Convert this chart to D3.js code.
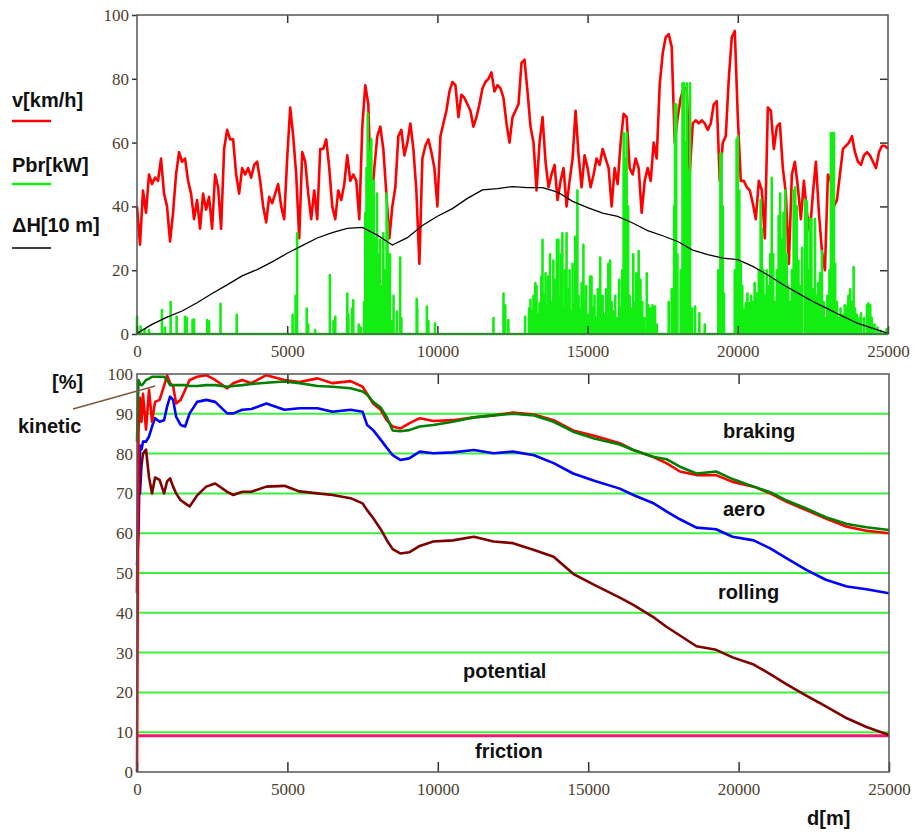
<!DOCTYPE html>
<html>
<head>
<meta charset="utf-8">
<script src="https://cdn.jsdelivr.net/npm/d3@7"></script>
<style>
  body { margin: 0; background: #fff; }
  .label { font-family: "Liberation Sans", Arial, sans-serif; font-weight: bold; font-size: 20px; fill: #111; }
</style>
</head>
<body>
<div id="chart"></div>
<script>
// SVG area
var svgWidth = 919;
var svgHeight = 832;

// ---- upper panel data ----
// speed v[km/h], one value every 100 m from 0 to 25000
var speedKmh = [
  40,28,45,38,50,47,49,48,55,44,
  40,29,38,50,57,54,55,48,44,36,
  42,33,44,39,43,33,50,46,33,58,
  64,61,61,50,44,52,50,52,49,53,
  54,48,40,35,43,41,44,47,40,36,
  55,71,62,50,30,57,54,44,36,45,
  36,58,58,61,52,40,36,45,42,47,
  56,48,50,48,36,65,78,72,40,52,
  62,65,58,44,30,40,46,62,64,56,
  60,66,58,45,22,55,59,61,57,52,
  40,62,66,70,76,79,78,68,75,74,
  72,70,65,68,72,77,79,80,82,76,
  78,77,74,66,60,68,70,72,85,86,
  76,65,60,45,60,68,54,46,50,53,
  42,48,52,40,48,55,70,56,46,56,
  52,46,50,55,53,58,55,52,40,52,
  47,60,69,68,52,50,55,52,38,48,
  52,48,60,55,78,88,93,94,90,60,
  68,74,77,77,50,66,67,66,67,66,
  64,66,72,73,48,60,62,80,93,95,
  68,48,48,46,45,41,36,48,45,30,
  71,70,58,65,66,52,44,22,50,54,
  46,36,48,38,32,44,54,38,26,20,
  50,48,40,42,50,58,59,60,62,57,
  54,53,56,57,56,54,52,57,59,59,
  58
];
var speedDist = d3.range(0, 25001, 100);

// height difference dH[10 m], every 500 m
var heightDH = [
  0.2,3,5.3,7.2,9.8,12.7,15.4,18.2,20.2,22.6,
  25.3,27.7,30.1,31.8,33.1,33.4,31,27.9,30.2,34,
  36.9,39.3,42.5,45.2,45.6,46.2,45.9,45.9,44.5,41.6,
  39.6,37.9,36.9,34.8,32.4,30.8,29,26.3,24.9,23.8,
  23.3,21.2,18.5,15.5,12.8,10.2,7.9,5.5,3.3,1.8,
  0.2
];
var heightDist = d3.range(0, 25001, 500);

// braking power Pbr[kW] peaks: position [m] and value
var pbrDist = [
  0,120,250,400,830,930,1120,1320,1600,1660,1850,1900,2340,2400,2780,3320,
  5180,5280,5330,5650,5700,5930,6420,6540,6600,7000,7040,7160,7200,7380,7450,
  7560,7600,7640,7680,7700,7720,7740,7760,7780,7800,7830,7860,7880,7920,7960,7990,
  8030,8090,8130,8200,8230,8260,8310,8340,8380,8420,8460,8540,8650,8760,8800,
  9310,9330,9650,9700,9920,11866,12200,12260,12360,12920,
  13050,13100,13150,13200,13260,13300,13350,13400,13460,13500,13550,13600,13650,13690,
  13750,13800,13860,13900,13950,13980,14030,14080,14120,14160,14200,14250,14300,14350,
  14400,14450,14500,14540,14590,14660,14700,14760,14800,14860,14900,14950,15000,15080,
  15130,15180,15230,15280,15340,15420,15460,15500,15560,15620,15690,15750,15800,15860,
  15920,15980,16050,16100,16150,16200,16250,16300,16350,16400,16450,16520,16560,16620,
  16700,16760,16820,16880,16970,17020,17100,17160,17245,17300,
  17700,17800,17880,17910,17950,17990,18100,18160,18200,18250,18300,18350,18410,18480,
  18580,18720,18900,
  19350,19420,19460,19500,19540,19900,19960,20000,20050,20100,20150,
  20200,20260,20320,20380,20440,20500,20560,20630,20700,20760,20800,20850,20900,20960,
  21020,21080,21130,21180,21240,21300,21360,21410,21460,21520,21580,21630,21680,21740,
  21800,21860,21910,21960,22020,22080,22140,22240,22300,22350,22400,22450,22500,22570,
  22620,22680,22740,22800,22860,22920,22980,23050,23100,23150,23200,23240,23300,23360,
  23420,23500,23560,23620,23680,23740,23800,23855,23900,23960,24050,24100,24200,24300,
  24350,24410,24460,24550,24650,24750,24950
];
var pbrKw = [
  5.5,2.3,1.5,1.2,7.5,2,10,5.4,5.4,5,4.4,4.5,4.4,4,9.5,6,
  6,12,31.6,8,3,1.2,18.5,4,5.4,12.7,6,8,10.6,3,2,
  10,38,52,69,60,50,40,57,35,61,44,37,48,20,30,44,
  25,29.5,15,31.6,20,10,44,35,20,25,4,12,7,24,5,
  11,8,8.6,4,3.3,5,12.7,9,4.4,5.4,
  8,10.7,7,12,16,15,6,9.6,18,29.5,12,19,8,18,
  25,10,23,17,6,29.5,29.5,12,25,31.6,8,20,31.6,14,
  20,7,22,10,30.5,45,12,8,16,28,10,15,6,18,
  18,8,12,5,14,24,9,12,6,14,22,23,10,7,
  12,5,17,8,20,63,55,63,40,12,8,25,10,19,
  26,17,10,5,19,9,8,9,8.6,3,
  10,14,40,72,72,25,20,78.6,78.6,60,78.6,51,78.6,8,
  8.6,6.5,3,
  20,56.6,56.6,40,12.7,20,61,62,45,22,15,
  7.5,9.6,12.7,9.6,12,10,16,12.7,20,42,33,20,12,20,
  15,25,49,25,10,20,37,44,29.5,38,45,25,15,10,
  20,45,46,40,23,15,27,42,41.5,20,36,36,14,36,
  12,16,19,26,10,5,12,20,63,63,63,22,10,5,
  8,6,9,8.6,12,14,10,21,8,6,5,6.5,5,9,
  9.6,9,5,3,2,1,1.5
];

// ---- lower panel data ----
// cumulative energy shares [%] vs distance
var pctDist = [
  0,50,100,150,200,300,400,500,600,750,
  900,1000,1100,1200,1300,1450,1600,1750,2000,2300,
  2600,3000,3200,3500,3800,4300,4900,5400,6000,6500,
  7100,7500,7650,7850,8100,8300,8500,8750,9050,9400,
  9850,10500,11200,11850,12500,13200,13850,14500,15200,16050,
  16500,17150,17600,18050,18600,19250,19800,20500,21050,21600,
  22250,22900,23600,24250,25000
];
var kineticPct = [
  0,85,94,88,95,86,96,88,93,93.5,
  97,99.7,97.7,97,92.6,93.5,96,98.5,99.3,99.7,
  98.5,96.4,97.7,98.5,97.7,99.7,98.5,98,98.9,97.7,
  98.2,96.8,95,92.6,91,88.4,86.8,86.3,87.6,88.9,
  88.2,88.4,89.1,89.6,90.3,89.8,88.4,85.8,84.5,82.6,
  80.9,79.2,77.6,75.5,74.6,74.6,72.9,71.7,70,67.9,
  65.8,63.7,61.6,60.6,60
];
var brakingPct = [
  83,98.5,97.5,97.2,97.5,98.5,98.8,99.3,99.3,99.3,
  99.3,98.5,97.2,97.2,97.2,97.2,97.2,97,97,97.2,
  97.2,96.8,97,97.2,97.5,97.8,98.1,97.7,97,96.8,
  96.4,95.6,94.8,93,91.6,89.2,85.8,85.6,85.9,86.8,
  87.2,88,89.1,89.6,90,89.6,88,85.5,83.8,82.3,
  80.9,79.2,78.6,76.7,75,75.5,73.6,71.7,70.3,68.2,
  66.2,64,62.3,61.5,60.8
];
var aeroPct = [
  52,60,82,81,83,83,84.3,86.8,88.9,88,
  88.4,91.8,94.3,93.5,89.3,87.2,86.8,90.1,93,93.5,
  93,90.1,90.1,91,91.2,92.6,91,91.4,91.4,90.5,
  91,90.5,87.2,85.9,83.5,81.5,79.6,78.4,78.8,80.5,
  80.1,80.3,80.9,80.1,80.5,79.6,77.6,75,73.2,71.2,
  69.6,67.6,65.5,63.5,61.4,61,59.1,58.2,56.2,53.7,
  50.8,48.3,46.6,45.9,44.9
];
var rollingPct = [
  45,80,70,77,80,81,74,70,74,73.4,
  70,73,73.8,71.7,70,68.3,67.5,66.7,69.5,71.7,
  72.5,70.4,69.6,70.4,70.4,71.7,71.9,70.5,70,69.6,
  68.8,67.5,65.8,63.8,61,58.3,56,54.9,55.2,56.8,
  57.9,58.2,59.1,57.9,57.5,55.8,54.1,49.8,47,43.8,
  42,39,36.5,34.3,31.6,30.7,28.8,27,24.6,22,
  19.2,16.5,13.5,11.3,9.3
];
var frictionDist = [0, 25000];
var frictionPct = [9.1, 9.1];

// tick values
var distTicks = [0, 5000, 10000, 15000, 20000, 25000];
var innerDistTicks = [5000, 10000, 15000, 20000];
var upperYTicks = [0, 20, 40, 60, 80, 100];
var lowerYTicks = d3.range(0, 101, 10);
var gridPct = d3.range(10, 91, 10);

// panel boxes
var upper = { left: 137, right: 888, top: 15, bottom: 334 };
var lower = { left: 137, right: 889, top: 374, bottom: 772 };

var svg = d3.select("#chart")
  .append("svg")
  .attr("width", svgWidth)
  .attr("height", svgHeight)
  .style("background", "#fff");

// scales
var xUp = d3.scaleLinear().domain([0, 25000]).range([upper.left, upper.right]);
var yUp = d3.scaleLinear().domain([0, 100]).range([upper.bottom, upper.top]);
var xLo = d3.scaleLinear().domain([0, 25000]).range([lower.left, lower.right]);
var yLo = d3.scaleLinear().domain([0, 100]).range([lower.bottom, lower.top]);

// axis look: no domain line, serif numbers, dark ticks
function styleAxis(g) {
  g.select(".domain").remove();
  g.selectAll(".tick line").attr("stroke", "#333").attr("stroke-width", 1.5);
  g.selectAll(".tick text")
    .style("font-family", "'Liberation Serif', 'Times New Roman', serif")
    .style("font-size", "17px")
    .style("fill", "#4d4030");
}

/**
 * Upper panel
 */
var drawSpeed = d3.line()
  .x((d, i) => xUp(speedDist[i]))
  .y(d => yUp(d));

svg.append("path")
  .attr("d", drawSpeed(speedKmh))
  .attr("fill", "none")
  .attr("stroke", "#ff0000")
  .attr("stroke-width", 2.6)
  .attr("stroke-linejoin", "round");

// braking power drawn as stems rising from the zero line
var pbrPoints = [[0, 0]];
pbrDist.forEach(function(d, i) {
  pbrPoints.push([d, 0], [d, pbrKw[i]], [d, 0]);
});
pbrPoints.push([25000, 0]);

var drawPbr = d3.line()
  .x(p => xUp(p[0]))
  .y(p => yUp(p[1]));

svg.append("path")
  .attr("d", drawPbr(pbrPoints))
  .attr("fill", "none")
  .attr("stroke", "#12ee12")
  .attr("stroke-width", 2.6)
  .attr("stroke-linejoin", "round");

var drawHeight = d3.line()
  .x((d, i) => xUp(heightDist[i]))
  .y(d => yUp(d));

svg.append("path")
  .attr("d", drawHeight(heightDH))
  .attr("fill", "none")
  .attr("stroke", "#000")
  .attr("stroke-width", 1.3);

// axes
svg.append("g")
  .attr("transform", "translate(0," + upper.bottom + ")")
  .call(d3.axisBottom(xUp).tickValues(distTicks).tickSizeInner(-8).tickSizeOuter(0).tickPadding(11).tickFormat(d3.format("d")))
  .call(styleAxis);
svg.append("g")
  .attr("transform", "translate(0," + upper.top + ")")
  .call(d3.axisTop(xUp).tickValues(innerDistTicks).tickSizeInner(-8).tickSizeOuter(0).tickFormat(""))
  .call(styleAxis);
svg.append("g")
  .attr("transform", "translate(" + upper.left + ",0)")
  .call(d3.axisLeft(yUp).tickValues(upperYTicks).tickSizeInner(5).tickSizeOuter(0).tickPadding(3))
  .call(styleAxis);
svg.append("g")
  .attr("transform", "translate(" + upper.right + ",0)")
  .call(d3.axisRight(yUp).tickValues([20, 40, 60, 80]).tickSizeInner(-8).tickSizeOuter(0).tickFormat(""))
  .call(styleAxis);

svg.append("rect")
  .attr("x", upper.left).attr("y", upper.top)
  .attr("width", upper.right - upper.left)
  .attr("height", upper.bottom - upper.top)
  .attr("fill", "none")
  .attr("stroke", "#555")
  .attr("stroke-width", 1.5);

// legend of the upper panel
var legend = [
  { text: "v[km/h]", color: "#ff0000", y: 107, lineY: 121, width: 2.5 },
  { text: "Pbr[kW]", color: "#12ee12", y: 172, lineY: 184, width: 2.5 },
  { text: "\u0394H[10 m]", color: "#000", y: 232, lineY: 248, width: 1.5 }
];
legend.forEach(function(l) {
  svg.append("text").attr("class", "label").attr("x", 12).attr("y", l.y).text(l.text);
  svg.append("line")
    .attr("x1", 12).attr("x2", 51)
    .attr("y1", l.lineY).attr("y2", l.lineY)
    .attr("stroke", l.color).attr("stroke-width", l.width);
});

/**
 * Lower panel
 */
svg.append("g")
  .selectAll("line")
  .data(gridPct)
  .join("line")
  .attr("x1", xLo(0)).attr("x2", xLo(25000))
  .attr("y1", d => yLo(d)).attr("y2", d => yLo(d))
  .attr("stroke", "#3ef03e")
  .attr("stroke-width", 2);

var drawPct = d3.line()
  .x((d, i) => xLo(pctDist[i]))
  .y(d => yLo(d));

svg.append("path")
  .attr("d", d3.line().x((d, i) => xLo(frictionDist[i])).y(d => yLo(d))(frictionPct))
  .attr("fill", "none")
  .attr("stroke", "#f0186e")
  .attr("stroke-width", 3);

var lowerSeries = [
  { values: rollingPct, color: "#800000" },
  { values: aeroPct, color: "#0000ff" },
  { values: kineticPct, color: "#ff0000" },
  { values: brakingPct, color: "#008000" }
];
lowerSeries.forEach(function(s) {
  svg.append("path")
    .attr("d", drawPct(s.values))
    .attr("fill", "none")
    .attr("stroke", s.color)
    .attr("stroke-width", 2.6)
    .attr("stroke-linejoin", "round");
});

svg.append("g")
  .attr("transform", "translate(0," + lower.bottom + ")")
  .call(d3.axisBottom(xLo).tickValues(distTicks).tickSizeInner(-10).tickSizeOuter(0).tickPadding(11).tickFormat(d3.format("d")))
  .call(styleAxis);
svg.append("g")
  .attr("transform", "translate(0," + lower.top + ")")
  .call(d3.axisTop(xLo).tickValues(innerDistTicks).tickSizeInner(-10).tickSizeOuter(0).tickFormat(""))
  .call(styleAxis);
svg.append("g")
  .attr("transform", "translate(" + lower.left + ",0)")
  .call(d3.axisLeft(yLo).tickValues(lowerYTicks).tickSize(0).tickPadding(4))
  .call(styleAxis);

svg.append("rect")
  .attr("x", lower.left).attr("y", lower.top)
  .attr("width", lower.right - lower.left)
  .attr("height", lower.bottom - lower.top)
  .attr("fill", "none")
  .attr("stroke", "#555")
  .attr("stroke-width", 1.5);

// annotations
var notes = [
  { text: "[%]", x: 52, y: 389 },
  { text: "kinetic", x: 18, y: 433 },
  { text: "braking", x: 723, y: 438 },
  { text: "aero", x: 723, y: 516 },
  { text: "rolling", x: 718, y: 599 },
  { text: "potential", x: 463, y: 678 },
  { text: "friction", x: 475, y: 758 },
  { text: "d[m]", x: 807, y: 825 }
];
svg.selectAll(".note")
  .data(notes)
  .join("text")
  .attr("class", "label note")
  .attr("x", d => d.x)
  .attr("y", d => d.y)
  .text(d => d.text);

// leader from "kinetic" to its curve
svg.append("line")
  .attr("x1", 73).attr("y1", 409)
  .attr("x2", xLo(600)).attr("y2", yLo(97))
  .attr("stroke", "#7a5a3a")
  .attr("stroke-width", 1.5);
</script>
</body>
</html>
